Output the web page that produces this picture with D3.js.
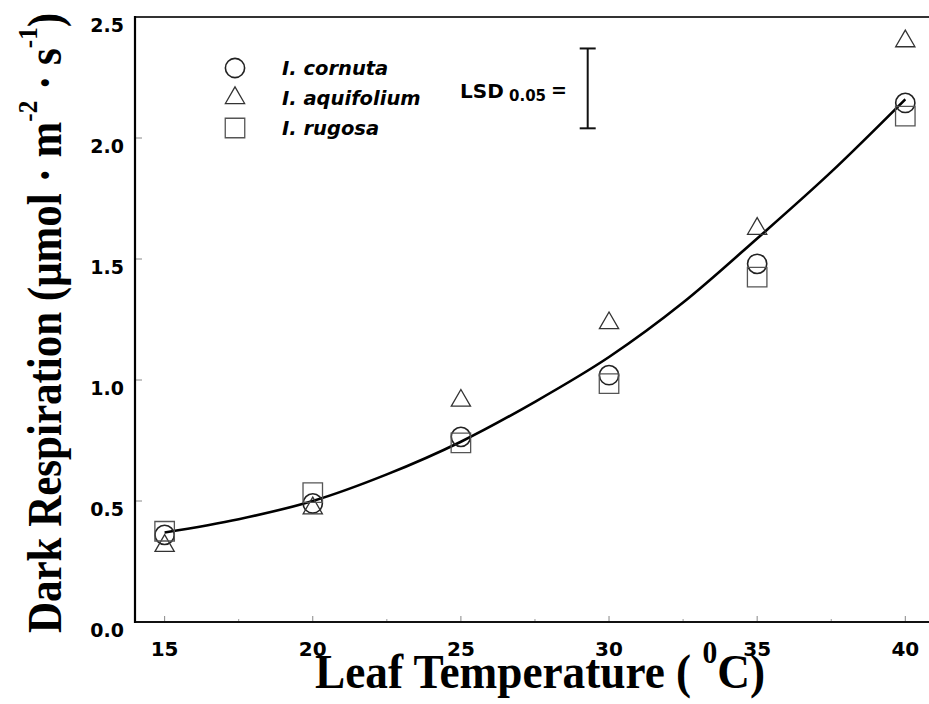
<!DOCTYPE html>
<html>
<head>
<meta charset="utf-8">
<script src="https://d3js.org/d3.v7.min.js"></script>
<style>
  body { margin: 0; background: #fff; }
  svg { display: block; }
</style>
</head>
<body>
<svg></svg>
<script>
// data
const temps = [15, 20, 25, 30, 35, 40];
const cornuta = [0.36, 0.49, 0.765, 1.02, 1.48, 2.145];
const aquifolium = [0.315, 0.47, 0.915, 1.235, 1.625, 2.40];
const rugosa = [0.375, 0.535, 0.74, 0.985, 1.425, 2.09];
const fitX = [15, 17.5, 20, 22.5, 25, 27.5, 30, 32.5, 35, 37.5, 40];
const fitY = [0.37, 0.425, 0.50, 0.61, 0.745, 0.91, 1.095, 1.32, 1.585, 1.86, 2.16];
const xTicks = [15, 20, 25, 30, 35, 40];
const xMinor = [17.5, 22.5, 27.5, 32.5, 37.5];
const yTicks = [0, 0.5, 1.0, 1.5, 2.0, 2.5];
const species = ['I. cornuta', 'I. aquifolium', 'I. rugosa'];
const lsd = 0.33;

const width = 929;
const height = 704;
const plotLeft = 135;
const plotTop = 17;
const plotBottom = 622;

const xScale = d3.scaleLinear()
                    .domain([14, 40.8])
                    .range([plotLeft, width])
const yScale = d3.scaleLinear()
                    .domain([0, 2.5])
                    .range([plotBottom, plotTop])

const svg = d3.select('svg')
        .attr('width', width)
        .attr('height', height)

const tickFont = 'DejaVu Sans, Arial, sans-serif';
const titleFont = 'Liberation Serif, Times New Roman, serif';

// inner ticks
svg.append('g')
    .selectAll('line')
    .data(xTicks)
    .enter()
    .append('line')
        .attr('x1', d => xScale(d))
        .attr('x2', d => xScale(d))
        .attr('y1', plotBottom)
        .attr('y2', plotBottom - 6)
        .attr('stroke', '#888')
        .attr('stroke-width', 1)
svg.append('g')
    .selectAll('line')
    .data(xMinor)
    .enter()
    .append('line')
        .attr('x1', d => xScale(d))
        .attr('x2', d => xScale(d))
        .attr('y1', plotBottom)
        .attr('y2', plotBottom - 3)
        .attr('stroke', '#999')
        .attr('stroke-width', 1)
svg.append('g')
    .selectAll('line')
    .data(yTicks)
    .enter()
    .append('line')
        .attr('x1', plotLeft)
        .attr('x2', plotLeft + 7)
        .attr('y1', d => yScale(d))
        .attr('y2', d => yScale(d))
        .attr('stroke', '#888')
        .attr('stroke-width', 1)

// frame
svg.append('line')
    .attr('x1', plotLeft).attr('x2', width)
    .attr('y1', plotTop).attr('y2', plotTop)
    .attr('stroke', '#333').attr('stroke-width', 2)
svg.append('line')
    .attr('x1', plotLeft).attr('x2', width)
    .attr('y1', plotBottom).attr('y2', plotBottom)
    .attr('stroke', '#111').attr('stroke-width', 2)
svg.append('line')
    .attr('x1', plotLeft).attr('x2', plotLeft)
    .attr('y1', plotTop - 1).attr('y2', plotBottom + 1)
    .attr('stroke', '#000').attr('stroke-width', 2.2)

// tick labels
svg.append('g')
    .selectAll('text')
    .data(xTicks)
    .enter()
    .append('text')
        .attr('x', d => xScale(d))
        .attr('y', plotBottom + 34)
        .attr('text-anchor', 'middle')
        .attr('font-family', tickFont)
        .attr('font-weight', 'bold')
        .attr('font-size', '20px')
        .text(d => d)
svg.append('g')
    .selectAll('text')
    .data(yTicks)
    .enter()
    .append('text')
        .attr('x', 124)
        .attr('y', d => yScale(d) + 15)
        .attr('text-anchor', 'end')
        .attr('font-family', tickFont)
        .attr('font-weight', 'bold')
        .attr('font-size', '19px')
        .text(d => d.toFixed(1))

// fitted curve
const line = d3.line()
    .x(d => xScale(d[0]))
    .y(d => yScale(d[1]))
    .curve(d3.curveMonotoneX)
svg.append('path')
    .datum(fitX.map((x, i) => [x, fitY[i]]))
    .attr('d', line)
    .attr('fill', 'none')
    .attr('stroke', '#000')
    .attr('stroke-width', 2.6)

// markers
const shapes = [
    { type: d3.symbolCircle, size: 290, stroke: '#222', w: 1.6 },
    { type: d3.symbolTriangle, size: 160, stroke: '#333', w: 1.3 },
    { type: d3.symbolSquare, size: 380, stroke: '#555', w: 1.3 }
];
const seriesVals = [cornuta, aquifolium, rugosa];

seriesVals.forEach((vals, s) => {
    svg.append('g')
        .selectAll('path')
        .data(vals)
        .enter()
        .append('path')
            .attr('transform', (d, i) => 'translate(' + xScale(temps[i]) + ',' + yScale(d) + ')')
            .attr('d', d3.symbol().type(shapes[s].type).size(shapes[s].size))
            .attr('fill', 'none')
            .attr('stroke', shapes[s].stroke)
            .attr('stroke-width', shapes[s].w)
})

// legend
const legendY = [68, 98, 128];
species.forEach((name, s) => {
    svg.append('path')
        .attr('transform', 'translate(235,' + legendY[s] + ')')
        .attr('d', d3.symbol().type(shapes[s].type).size(shapes[s].size))
        .attr('fill', 'none')
        .attr('stroke', shapes[s].stroke)
        .attr('stroke-width', shapes[s].w)
    svg.append('text')
        .attr('x', 282)
        .attr('y', legendY[s] + 7)
        .attr('font-family', tickFont)
        .attr('font-weight', 'bold')
        .attr('font-style', 'italic')
        .attr('font-size', '19.5px')
        .text(name)
})

// LSD bar
svg.append('text')
    .attr('x', 460).attr('y', 98)
    .attr('font-family', tickFont)
    .attr('font-weight', 'bold')
    .attr('font-size', '20px')
    .text('LSD')
svg.append('text')
    .attr('x', 509).attr('y', 101)
    .attr('font-family', tickFont)
    .attr('font-weight', 'bold')
    .attr('font-size', '15px')
    .text('0.05')
svg.append('text')
    .attr('x', 551).attr('y', 97)
    .attr('font-family', tickFont)
    .attr('font-weight', 'bold')
    .attr('font-size', '19px')
    .text('=')

const lsdX = xScale(29.28);
const lsdMid = 2.205;
const lsdG = svg.append('g').attr('stroke', '#111').attr('stroke-width', 2)
lsdG.append('line')
    .attr('x1', lsdX).attr('x2', lsdX)
    .attr('y1', yScale(lsdMid + lsd / 2)).attr('y2', yScale(lsdMid - lsd / 2))
lsdG.append('line')
    .attr('x1', lsdX - 8).attr('x2', lsdX + 8)
    .attr('y1', yScale(lsdMid + lsd / 2)).attr('y2', yScale(lsdMid + lsd / 2))
lsdG.append('line')
    .attr('x1', lsdX - 8).attr('x2', lsdX + 8)
    .attr('y1', yScale(lsdMid - lsd / 2)).attr('y2', yScale(lsdMid - lsd / 2))

// axis titles
const xTitle = svg.append('text')
    .attr('x', 315)
    .attr('y', 688)
    .attr('font-family', titleFont)
    .attr('font-weight', 'bold')
    .attr('font-size', '49px')
xTitle.append('tspan').text('Leaf Temperature ( ')
xTitle.append('tspan').attr('dy', -25).attr('font-size', '32px').text('0')
xTitle.append('tspan').attr('dy', 25).text('C)')
xTitle.attr('textLength', 450).attr('lengthAdjust', 'spacingAndGlyphs')

const yTitle = svg.append('text')
    .attr('transform', 'translate(61,323) rotate(-90)')
    .attr('text-anchor', 'middle')
    .attr('font-family', titleFont)
    .attr('font-weight', 'bold')
    .attr('font-size', '48px')
yTitle.append('tspan').text('Dark Respiration (\u03bcmol \u00b7 m')
yTitle.append('tspan').attr('dy', -24).attr('font-size', '28px').text('-2')
yTitle.append('tspan').attr('dy', 24).text(' \u00b7 s')
yTitle.append('tspan').attr('dy', -24).attr('font-size', '28px').text('-1')
yTitle.append('tspan').attr('dy', 24).text(')')
yTitle.attr('textLength', 620).attr('lengthAdjust', 'spacingAndGlyphs')
</script>
</body>
</html>
